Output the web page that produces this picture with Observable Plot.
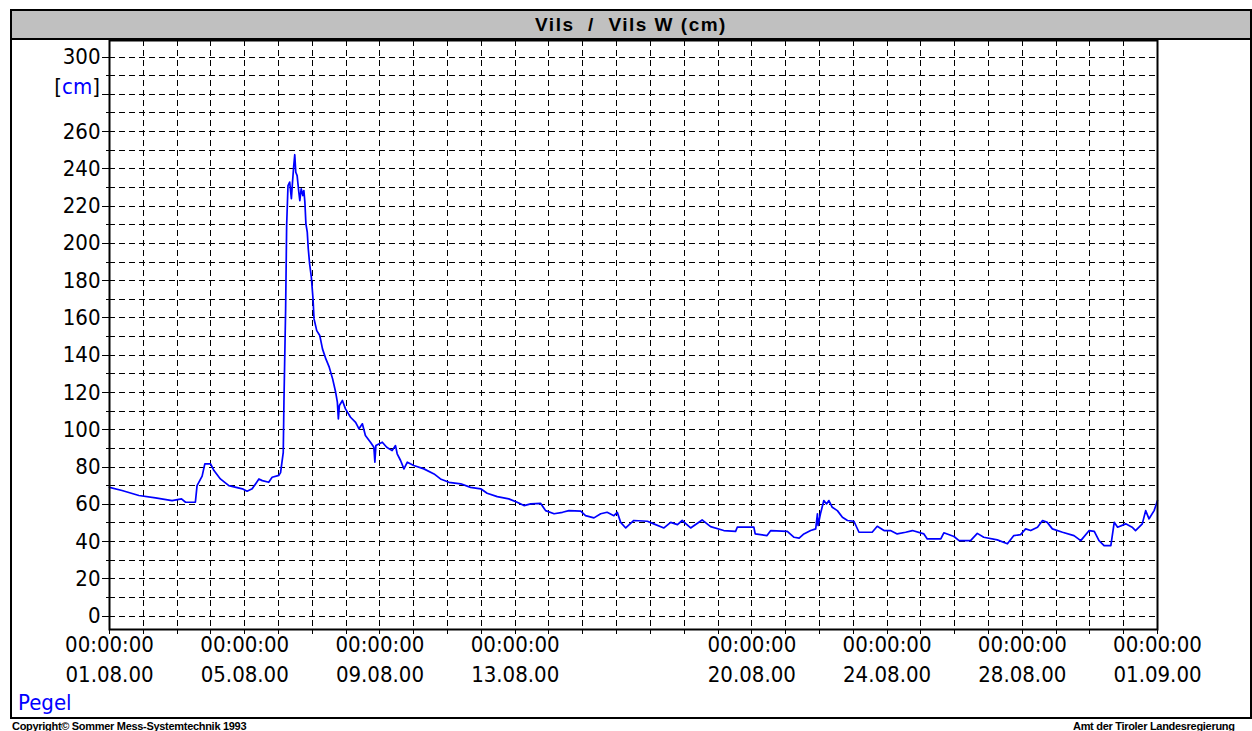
<!DOCTYPE html>
<html><head><meta charset="utf-8">
<script src="https://cdn.jsdelivr.net/npm/d3@7"></script>
<script src="https://cdn.jsdelivr.net/npm/@observablehq/plot@0.6"></script>
<style>
body{margin:0;background:#fff;width:1252px;height:731px;overflow:hidden;position:relative;font-family:"Liberation Sans",Arial,sans-serif}
#frame{position:absolute;left:10px;top:9px;width:1242px;height:710px;border:2px solid #000;box-sizing:border-box}
#title{position:absolute;left:12px;top:11px;width:1238px;height:29px;background:#c0c0c0;border-bottom:2px solid #000;box-sizing:border-box;text-align:center;font-weight:bold;font-size:19px;line-height:27px;letter-spacing:1.5px;white-space:pre}
#chart{position:absolute;left:12px;top:40px}
#pegel{position:absolute;left:18px;top:691px;color:#0000ff;font-family:"DejaVu Sans Condensed","Liberation Sans",sans-serif;font-size:22px;line-height:24px}
#copy{position:absolute;left:12px;top:720px;font-size:11px;line-height:12px;white-space:nowrap;font-weight:bold;letter-spacing:-0.3px}
#amt{position:absolute;left:1073px;top:720px;font-size:11px;line-height:12px;white-space:nowrap;font-weight:bold;letter-spacing:-0.3px}
</style></head>
<body>
<div id="frame"></div>
<div id="title">Vils  /  Vils W (cm)</div>
<div id="chart"></div>
<div id="pegel">Pegel</div>
<div id="copy">Copyright© Sommer Mess-Systemtechnik 1993</div>
<div id="amt">Amt der Tiroler Landesregierung</div>
<script>
// Water level (cm), day offsets since 01.08.2000 00:00
const dayOffset = [0.00,0.37,0.87,1.36,1.85,2.13,2.25,2.54,2.59,2.74,2.82,2.99,3.09,3.28,3.53,3.93,4.07,4.22,4.42,4.52,4.71,4.81,5.01,5.06,5.14,5.16,5.21,5.24,5.28,5.33,5.38,5.41,5.45,5.48,5.51,5.55,5.60,5.63,5.67,5.72,5.75,5.78,5.81,5.85,5.88,5.92,5.97,6.02,6.05,6.13,6.22,6.30,6.40,6.50,6.60,6.69,6.74,6.77,6.80,6.89,6.98,7.13,7.28,7.38,7.48,7.57,7.72,7.82,7.85,7.88,8.07,8.20,8.36,8.46,8.51,8.61,8.71,8.81,8.90,9.00,9.30,9.60,9.79,10.04,10.39,10.68,10.98,11.17,11.47,11.81,12.06,12.26,12.46,12.75,12.90,13.15,13.40,13.59,13.94,14.08,14.33,14.53,14.72,14.92,15.02,15.12,15.27,15.51,15.91,16.10,16.40,16.60,16.80,16.94,17.19,17.53,17.78,18.17,18.52,18.57,19.06,19.10,19.45,19.56,20.05,20.25,20.40,20.54,20.74,20.89,20.94,20.96,21.03,21.13,21.21,21.28,21.38,21.53,21.68,21.83,22.02,22.17,22.56,22.71,22.91,23.10,23.30,23.55,23.75,24.09,24.19,24.59,24.68,24.98,25.13,25.47,25.67,25.86,26.26,26.56,26.75,26.95,27.10,27.25,27.45,27.60,27.74,27.89,28.19,28.53,28.73,28.98,29.13,29.27,29.42,29.62,29.72,29.82,30.06,30.25,30.35,30.55,30.65,30.75,30.90,31.00];
const levelCm = [69.1,67.4,64.7,63.4,62.0,62.9,61.1,61.1,70.0,75.1,81.7,81.7,78.1,73.6,70.0,68.3,67.0,68.3,73.6,72.7,71.8,74.5,75.5,77.0,87.9,114.8,164.9,209.6,231.0,232.9,224.0,232.0,241.8,247.6,238.2,236.4,227.5,223.0,229.3,225.7,228.4,222.0,210.5,206.0,197.0,189.0,181.9,170.3,159.5,153.2,150.6,143.4,138.0,133.6,127.3,120.1,114.8,105.8,113.0,115.7,111.2,106.7,104.0,100.5,103.2,96.9,93.3,90.6,82.6,91.5,93.3,90.6,88.8,91.5,87.1,83.5,79.0,82.6,81.7,80.8,79.0,76.3,73.6,71.8,71.0,69.1,68.3,65.9,64.1,62.9,61.1,59.3,60.2,60.5,56.6,54.9,55.7,56.6,56.3,53.9,52.7,54.9,55.7,53.9,55.7,50.3,47.3,51.3,50.9,49.5,47.3,50.3,49.1,51.3,47.3,51.6,48.0,45.9,45.5,47.7,47.7,44.1,43.2,45.9,45.5,42.3,41.8,44.1,45.9,46.8,54.9,48.6,54.9,62.0,60.2,62.0,58.4,56.6,53.0,51.3,50.9,45.0,45.0,48.2,45.9,45.9,44.1,45.0,45.9,44.1,41.4,41.4,44.7,42.7,40.5,40.5,44.4,42.3,40.9,38.8,43.2,43.7,46.8,45.9,47.7,51.3,50.3,46.8,45.0,43.2,40.5,45.9,45.5,40.5,37.8,37.8,50.3,47.7,49.5,47.7,45.9,49.5,56.6,52.2,56.6,62.0];

const dayTicks = ["2000-08-01","2000-08-02","2000-08-03","2000-08-04","2000-08-05","2000-08-06","2000-08-07","2000-08-08","2000-08-09","2000-08-10","2000-08-11","2000-08-12","2000-08-13","2000-08-14","2000-08-15","2000-08-16","2000-08-17","2000-08-18","2000-08-19","2000-08-20","2000-08-21","2000-08-22","2000-08-23","2000-08-24","2000-08-25","2000-08-26","2000-08-27","2000-08-28","2000-08-29","2000-08-30","2000-08-31","2000-09-01"];
const labeledDays = ["2000-08-01","2000-08-05","2000-08-09","2000-08-13","2000-08-20","2000-08-24","2000-08-28","2000-09-01"];
const yGridTicks = [0,10,20,30,40,50,60,70,80,90,100,110,120,130,140,150,160,170,180,190,200,210,220,230,240,250,260,270,280,290,300];
const yLabelTicks = [0,20,40,60,80,100,120,140,160,180,200,220,240,260,280,300];
const unitLabelAt = 280;

const start = Date.UTC(2000,7,1);
const data = dayOffset.map((d,i) => ({t: new Date(start + d*86400000), v: levelCm[i]}));
const tickDates = dayTicks.map(s => new Date(s + "T00:00:00Z"));
const labelSet = new Set(labeledDays);
const fmt = d3.utcFormat("%d.%m.%y");
const iso = d3.utcFormat("%Y-%m-%d");

const FONT = '"DejaVu Sans Condensed","Liberation Sans",sans-serif';
const FS = 22;
const grid = {stroke:"#000", strokeOpacity:1, strokeWidth:1, strokeDasharray:"6,4", shapeRendering:"crispEdges"};

const plot = Plot.plot({
  width: 1238, height: 660,
  marginLeft: 97, marginRight: 93, marginTop: 0, marginBottom: 71,
  style: {fontFamily: FONT, color: "#000", background: "transparent", overflow: "visible"},
  x: {type: "utc", domain: [new Date(start), new Date(Date.UTC(2000,8,1))], label: null},
  y: {domain: [-7.2, 308.9], label: null},
  marks: [
    Plot.gridY(yGridTicks, grid),
    Plot.gridX(tickDates, grid),
    Plot.axisY(yGridTicks, {tickSize: 3, tickFormat: () => "", label: null, shapeRendering: "crispEdges"}),
    Plot.axisY(yLabelTicks, {tickSize: 7, tickPadding: 2, fontSize: FS, label: null, shapeRendering: "crispEdges",
      tickFormat: d => d === unitLabelAt ? "" : String(d)}),
    Plot.axisX(tickDates, {tickSize: 5, tickPadding: -3, fontSize: FS, lineHeight: 1.34, label: null, shapeRendering: "crispEdges",
      tickFormat: d => labelSet.has(iso(d)) ? "00:00:00\n" + fmt(d) : ""}),
    Plot.line(data, {x: "t", y: "v", stroke: "#0000ff", strokeWidth: 1.7}),
    Plot.frame({stroke: "#000", strokeWidth: 2})
  ]
});
document.getElementById("chart").append(plot);

// unit label "[cm]" at the 280 tick, placed with the plot's own y scale
const ys = plot.scale("y").apply(unitLabelAt);
const svg = d3.select(plot);
const t = svg.append("text")
  .attr("x", 97 - 9).attr("y", ys)
  .attr("text-anchor", "end")
  .attr("font-size", FS).attr("font-family", FONT).attr("fill", "#000");
t.append("tspan").text("[");
t.append("tspan").attr("fill", "#0000ff").text("cm");
t.append("tspan").text("]");
</script>
</body></html>
